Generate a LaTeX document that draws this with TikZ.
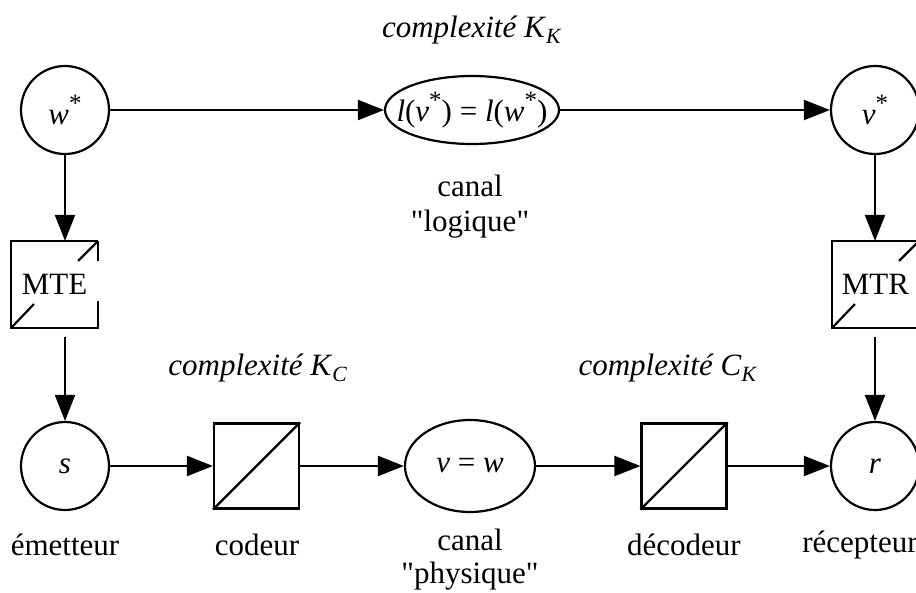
\documentclass[tikz,border=0pt]{standalone}
\usepackage{fontspec}
\setmainfont{Liberation Serif}[Ligatures=TeXOff]
\usetikzlibrary{arrows.meta,shapes.geometric,calc}

% raised asterisk used as a superscript
\newcommand{\starsup}{\raisebox{0.40em}{\fontsize{25}{25}\selectfont *}}

\begin{document}
\begin{tikzpicture}[x=1pt,y=-1pt,line width=2.2pt,
  every node/.style={font=\fontsize{31}{36}\selectfont},
  state/.style={circle,draw,minimum size=88pt,inner sep=0pt},
  codebox/.style={rectangle,draw,minimum size=85pt,inner sep=0pt},
  tbox/.style={rectangle,minimum size=85pt,inner sep=0pt},
  arr/.style={-{Triangle[length=26pt,width=20pt]}}]
\clip (0,0) rectangle (916,592);

% --- logical channel (top row)
\node[state] (w) at (65,110) {\textit{w}\starsup};
\node[state] (vs) at (875,110) {\textit{v}\starsup};
\node[ellipse,draw,minimum width=174pt,minimum height=68pt,inner sep=0pt] (lg) at (472,110) {};
\node[inner sep=0pt] (lgtext) at (lg) {\textit{l}(\textit{v}\starsup) = \textit{l}(\textit{w}\starsup)};
\node (ckk) at (472,30) {\textit{complexité K}\textsubscript{\textit{K}}};
\node (lcanal) at (470,186) {canal};
\node (llog) at (470,224) {"logique"};

% --- transcoding boxes MTE / MTR (outline broken around the label)
\node[tbox] (mte) at (54.5,284.5) {MTE};
\draw (mte.north east) -- (mte.north west) -- (mte.south west) -- (mte.south east) -- ++(0,-27);
\draw (mte.north east) -- ++(0,20);
\draw (mte.south west) -- ++(23,-24);
\draw (mte.north east) -- ++(-20,20);

\node[tbox] (mtr) at (875.5,284.5) {MTR};
\draw (mtr.north east) -- (mtr.north west) -- (mtr.south west) -- (mtr.south east) -- ++(0,-27);
\draw (mtr.north east) -- ++(0,20);
\draw (mtr.south west) -- ++(23,-24);
\draw (mtr.north east) -- ++(-20,20);

% --- physical channel (bottom row)
\node[state] (s) at (65,466) {\textit{s}};
\node[codebox] (cod) at (256.5,466) {};
\draw (cod.south west) -- (cod.north east);
\node[ellipse,draw,minimum width=130pt,minimum height=92pt,inner sep=0pt] (ph) at (470,466) {};
\node (phtext) at (ph) {\textit{v} = \textit{w}};
\node[codebox] (dec) at (684,466) {};
\draw (dec.south west) -- (dec.north east);
\node[state] (r) at (875,466) {\textit{r}};

\node (ckc) at (258,368) {\textit{complexité K}\textsubscript{\textit{C}}};
\node (cck) at (668,368) {\textit{complexité C}\textsubscript{\textit{K}}};

\node (lem) at (65,545) {émetteur};
\node (lcod) at (257,545) {codeur};
\node[align=center,inner sep=1pt,font=\fontsize{31}{33}\selectfont] (lcan) at (470,560) {canal\\"physique"};
\node (ldec) at (684,545) {décodeur};
\node (lrec) at (860,545) {récepteur};

% --- connectors
\coordinate (mteout) at ($(s.north |- mte.south)+(0,9)$);
\coordinate (mtrout) at ($(r.north |- mtr.south)+(0,9)$);
\draw[arr] (w.east) -- (lg.west);
\draw[arr] (lg.east) -- (vs.west);
\draw[arr] (w.south) -- (w.south |- mte.north);
\draw[arr] (vs.south) -- (vs.south |- mtr.north);
\draw[arr] (mteout) -- (s.north);
\draw[arr] (mtrout) -- (r.north);
\draw[arr] (s.east) -- (cod.west);
\draw[arr] (cod.east) -- (ph.west);
\draw[arr] (ph.east) -- (dec.west);
\draw[arr] (dec.east) -- (r.west);
\end{tikzpicture}
\end{document}
